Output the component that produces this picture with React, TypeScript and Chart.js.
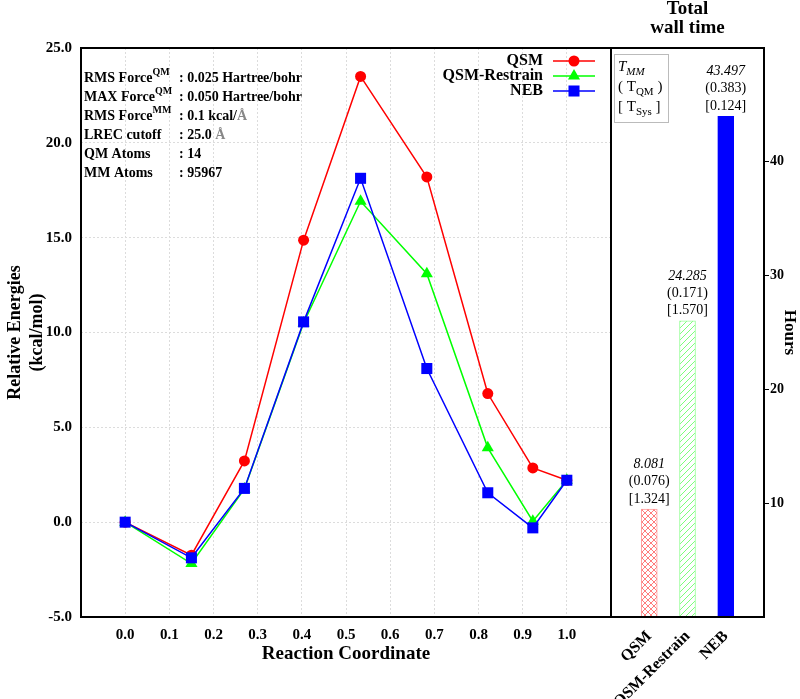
import React, { useEffect, useRef } from 'react';
import { Chart, registerables } from 'chart.js';
Chart.register(...registerables);

const SERIF = "'Liberation Serif', 'DejaVu Serif', serif";

// ---- Energy profile data ----
const reactionCoord = [0.0, 0.15, 0.27, 0.404, 0.533, 0.683, 0.821, 0.923, 1.0];
const qsmEnergy = [0, -1.74, 3.23, 14.87, 23.5, 18.2, 6.78, 2.86, 2.21];
const qsmRestrainEnergy = [0, -2.18, 1.75, 10.5, 16.92, 13.1, 3.92, 0.05, 2.21];
const nebEnergy = [0, -1.88, 1.78, 10.56, 18.13, 8.1, 1.55, -0.3, 2.21];
const seriesNames = ['QSM', 'QSM-Restrain', 'NEB'];

// ---- Wall time data (hours) ----
const methods = ['QSM', 'QSM-Restrain', 'NEB'];
const timeMM = [8.081, 24.285, 43.497];
const timeQM = [0.076, 0.171, 0.383];
const timeSys = [1.324, 1.57, 0.124];
const hourTicks = [10, 20, 30, 40];

// ---- Annotation text ----
const infoLabels = ['RMS Force', 'MAX Force', 'RMS Force', 'LREC cutoff', 'QM Atoms', 'MM Atoms'];
const infoLabelSup = ['QM', 'QM', 'MM', '', '', ''];
const infoValues = [': 0.025 Hartree/bohr', ': 0.050 Hartree/bohr', ': 0.1 kcal/', ': 25.0 ', ': 14', ': 95967'];
const infoUnits = ['', '', 'Å', 'Å', '', ''];

type Seg = { t: string; sup?: boolean; sub?: boolean; italic?: boolean; color?: string };

function drawSegs(ctx: CanvasRenderingContext2D, segs: Seg[], x: number, y: number, size: number, weight: string) {
  let cx = x;
  ctx.textBaseline = 'middle';
  ctx.textAlign = 'left';
  for (const s of segs) {
    const fs = s.sup || s.sub ? Math.round(size * 0.72) : size;
    ctx.font = `${s.italic ? 'italic ' : ''}${weight} ${fs}px ${SERIF}`;
    ctx.fillStyle = s.color || '#000';
    const dy = s.sup ? -size * 0.38 : s.sub ? size * 0.32 : 0;
    ctx.fillText(s.t, cx, y + dy);
    cx += ctx.measureText(s.t).width;
  }
  return cx;
}

function drawMarker(ctx: CanvasRenderingContext2D, style: string, x: number, y: number, r: number, color: string) {
  ctx.fillStyle = color;
  ctx.beginPath();
  if (style === 'circle') {
    ctx.arc(x, y, r, 0, Math.PI * 2);
  } else if (style === 'triangle') {
    ctx.moveTo(x, y - r);
    ctx.lineTo(x + r * 0.866, y + r / 2);
    ctx.lineTo(x - r * 0.866, y + r / 2);
    ctx.closePath();
  } else {
    const s = r * Math.SQRT1_2;
    ctx.rect(x - s, y - s, 2 * s, 2 * s);
  }
  ctx.fill();
}

const framePlugin = {
  id: 'frame',
  afterDraw(chart: any) {
    const { ctx, chartArea: a } = chart;
    ctx.save();
    ctx.strokeStyle = '#000';
    ctx.lineWidth = 2;
    ctx.strokeRect(a.left, a.top, a.right - a.left, a.bottom - a.top);
    ctx.restore();
  },
};

const leftDecor = {
  id: 'leftDecor',
  afterDraw(chart: any) {
    const { ctx, chartArea: a } = chart;
    ctx.save();
    // info text
    infoLabels.forEach((lab, i) => {
      const y = a.top + 30 + i * 19;
      const segs: Seg[] = [{ t: lab }];
      if (infoLabelSup[i]) segs.push({ t: infoLabelSup[i], sup: true });
      drawSegs(ctx, segs, a.left + 3, y, 14, 'bold');
      const vs: Seg[] = [{ t: infoValues[i] }];
      if (infoUnits[i]) vs.push({ t: infoUnits[i], color: '#888' });
      drawSegs(ctx, vs, a.left + 98, y, 14, 'bold');
    });
    // legend
    chart.data.datasets.forEach((ds: any, i: number) => {
      const y = a.top + 13 + i * 15;
      ctx.font = `bold 16px ${SERIF}`;
      ctx.textAlign = 'right';
      ctx.textBaseline = 'middle';
      ctx.fillStyle = '#000';
      ctx.fillText(ds.label, a.right - 68, y);
      ctx.strokeStyle = ds.borderColor;
      ctx.lineWidth = 1.5;
      ctx.beginPath();
      ctx.moveTo(a.right - 58, y);
      ctx.lineTo(a.right - 16, y);
      ctx.stroke();
      drawMarker(ctx, ds.pointStyle, a.right - 37, y, ds.pointRadius, ds.borderColor);
    });
    ctx.restore();
  },
};

const rightDecor = {
  id: 'rightDecor',
  afterDraw(chart: any) {
    const { ctx, chartArea: a } = chart;
    ctx.save();
    // key box
    const bx = a.left + 3, by = a.top + 6, bw = 54, bh = 68;
    ctx.fillStyle = '#fff';
    ctx.fillRect(bx, by, bw, bh);
    ctx.strokeStyle = '#bbb';
    ctx.lineWidth = 1;
    ctx.strokeRect(bx + 0.5, by + 0.5, bw, bh);
    drawSegs(ctx, [{ t: 'T', italic: true }, { t: 'MM', sub: true, italic: true }], bx + 4, by + 13, 15, 'normal');
    drawSegs(ctx, [{ t: '( T' }, { t: 'QM', sub: true }, { t: ' )' }], bx + 4, by + 33, 15, 'normal');
    drawSegs(ctx, [{ t: '[ T' }, { t: 'Sys', sub: true }, { t: ' ]' }], bx + 4, by + 53, 15, 'normal');
    // bar labels
    const meta = chart.getDatasetMeta(0);
    methods.forEach((m, i) => {
      const el = meta.data[i + 1];
      if (!el) return;
      const x = el.x, top = el.y;
      ctx.textAlign = 'center';
      ctx.textBaseline = 'middle';
      ctx.fillStyle = '#000';
      ctx.font = `italic 14px ${SERIF}`;
      ctx.fillText(timeMM[i].toFixed(3), x, top - 45);
      ctx.font = `14px ${SERIF}`;
      ctx.fillText(`(${timeQM[i].toFixed(3)})`, x, top - 27.5);
      ctx.fillText(`[${timeSys[i].toFixed(3)}]`, x, top - 10);
    });
    ctx.restore();
  },
};

function makeHatch(ctx: CanvasRenderingContext2D, color: string, cross: boolean) {
  const n = 6;
  const c = document.createElement('canvas');
  c.width = n;
  c.height = n;
  const g = c.getContext('2d')!;
  g.fillStyle = '#fff';
  g.fillRect(0, 0, n, n);
  g.strokeStyle = color;
  g.lineWidth = 1;
  g.beginPath();
  g.moveTo(-1, n + 1); g.lineTo(n + 1, -1);
  g.moveTo(-1, 1); g.lineTo(1, -1);
  g.moveTo(n - 1, n + 1); g.lineTo(n + 1, n - 1);
  if (cross) {
    g.moveTo(-1, -1); g.lineTo(n + 1, n + 1);
    g.moveTo(n - 1, -1); g.lineTo(n + 1, 1);
    g.moveTo(-1, n - 1); g.lineTo(1, n + 1);
  }
  g.stroke();
  return ctx.createPattern(c, 'repeat');
}

export default function App() {
  const leftRef = useRef<HTMLCanvasElement>(null);
  const rightRef = useRef<HTMLCanvasElement>(null);

  useEffect(() => {
    Chart.defaults.font.family = SERIF;
    Chart.defaults.color = '#000';
    const mk = (vals: number[]) => reactionCoord.map((x, i) => ({ x, y: vals[i] }));
    const left = new Chart(leftRef.current!, {
      type: 'line',
      data: {
        datasets: [
          { label: seriesNames[0], data: mk(qsmEnergy), borderColor: '#ff0000', backgroundColor: '#ff0000', pointStyle: 'circle', pointRadius: 5.5, pointBorderWidth: 0, borderWidth: 1.5, order: 2 },
          { label: seriesNames[1], data: mk(qsmRestrainEnergy), borderColor: '#00ff00', backgroundColor: '#00ff00', pointStyle: 'triangle', pointRadius: 7, pointBorderWidth: 0, borderWidth: 1.5, order: 1 },
          { label: seriesNames[2], data: mk(nebEnergy), borderColor: '#0000ff', backgroundColor: '#0000ff', pointStyle: 'rect', pointRadius: 7.8, pointBorderWidth: 0, borderWidth: 1.5, order: 0 },
        ] as any,
      },
      options: {
        animation: false,
        responsive: false,
        events: [],
        layout: { padding: { left: 0, top: 48, right: 189, bottom: 0 } },
        plugins: { legend: { display: false }, tooltip: { enabled: false } },
        scales: {
          x: {
            type: 'linear',
            min: -0.1,
            max: 1.1,
            ticks: {
              stepSize: 0.1,
              autoSkip: false,
              maxRotation: 0,
              padding: 9,
              font: { size: 15, weight: 'bold' },
              color: '#000',
              callback: (v: any) => (v < -0.05 || v > 1.05 ? '' : Number(v).toFixed(1)),
            },
            grid: { color: '#dcdcdc', drawTicks: false, lineWidth: 1 },
            border: { display: false, dash: [2, 2] },
            title: { display: true, text: 'Reaction Coordinate', font: { size: 19, weight: 'bold' }, color: '#000', padding: { top: 4, bottom: 34 } },
            afterFit: (s: any) => { s.height = 82; },
          },
          y: {
            min: -5,
            max: 25,
            ticks: { stepSize: 5, padding: 9, font: { size: 15, weight: 'bold' }, color: '#000', callback: (v: any) => Number(v).toFixed(1) },
            grid: { color: '#dcdcdc', drawTicks: false, lineWidth: 1 },
            border: { display: false, dash: [2, 2] },
            title: { display: true, text: ['Relative Energies', '(kcal/mol)'], font: { size: 18, weight: 'bold', lineHeight: 1.2 }, color: '#000', padding: { top: 5, bottom: 0 } },
            afterFit: (s: any) => { s.width = 81; },
          },
        },
      } as any,
      plugins: [framePlugin, leftDecor],
    });

    const rctx = rightRef.current!.getContext('2d')!;
    const redHatch = makeHatch(rctx, 'rgba(255,110,110,0.9)', true);
    const greenHatch = makeHatch(rctx, 'rgba(110,255,110,0.9)', false);
    const totals = methods.map((_, i) => timeMM[i] + timeQM[i] + timeSys[i]);
    const right = new Chart(rightRef.current!, {
      type: 'bar',
      data: {
        labels: ['', ...methods, ''],
        datasets: [
          {
            data: [null, ...totals, null],
            backgroundColor: ['#fff', redHatch, greenHatch, '#0000ff', '#fff'],
            borderColor: ['#fff', '#ff9a9a', '#9aff9a', '#0000ff', '#fff'],
            borderWidth: 1,
            barThickness: 16,
          },
        ] as any,
      },
      options: {
        animation: false,
        responsive: false,
        events: [],
        layout: { padding: { left: 611, top: 0, right: 0, bottom: 0 } },
        plugins: {
          legend: { display: false },
          tooltip: { enabled: false },
          title: {
            display: true,
            fullSize: false,
            text: ['Total', 'wall time'],
            font: { size: 19, weight: 'bold', lineHeight: 1.0 },
            color: '#000',
            padding: { top: 0, bottom: 10 },
          },
        },
        scales: {
          x: {
            type: 'category',
            offset: false,
            grid: { display: false },
            border: { display: false },
            ticks: { autoSkip: false, minRotation: 45, maxRotation: 45, padding: 2, font: { size: 16, weight: 'bold' }, color: '#000' },
            afterFit: (s: any) => { s.height = 82; },
          },
          y: {
            position: 'right',
            min: 0,
            max: 50,
            afterBuildTicks: (s: any) => { s.ticks = hourTicks.map((v) => ({ value: v })); },
            grid: { drawOnChartArea: false, color: '#000', tickLength: 5, lineWidth: 1 },
            border: { display: false },
            ticks: { padding: 1, font: { size: 14, weight: 'bold' }, color: '#000' },
            title: { display: true, text: 'Hours', font: { size: 17, weight: 'bold' }, color: '#000', padding: 0 },
            afterFit: (s: any) => { s.width = 36; },
          },
        },
      } as any,
      plugins: [framePlugin, rightDecor],
    });

    return () => {
      left.destroy();
      right.destroy();
    };
  }, []);

  return (
    <div style={{ position: 'absolute', left: 0, top: 0, width: 800, height: 699, background: '#fff' }}>
      <canvas ref={leftRef} width={800} height={699} style={{ position: 'absolute', left: 0, top: 0 }} />
      <canvas ref={rightRef} width={800} height={699} style={{ position: 'absolute', left: 0, top: 0 }} />
    </div>
  );
}
